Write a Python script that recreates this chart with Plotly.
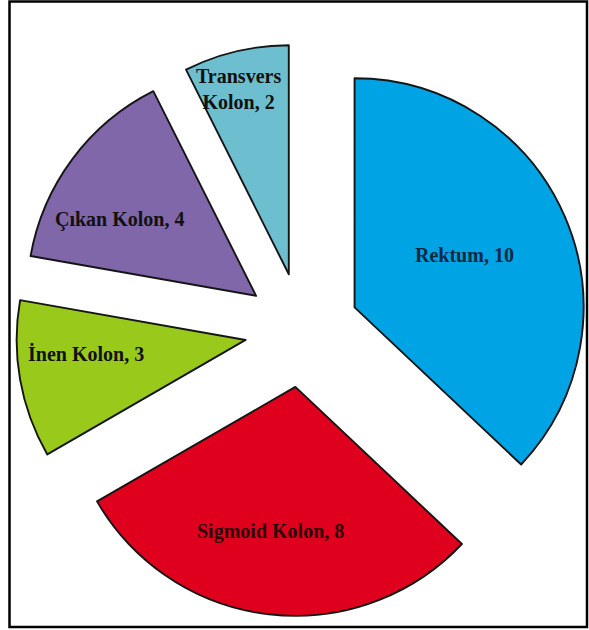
import math
import plotly.graph_objects as go

# ---- data ----
categories = ["Rektum", "Sigmoid Kolon", "İnen Kolon", "Çıkan Kolon", "Transvers Kolon"]
values = [10, 8, 3, 4, 2]
label_texts = ["Rektum, 10", "Sigmoid Kolon, 8", "İnen Kolon, 3", "Çıkan Kolon, 4", "Transvers<br>Kolon, 2"]

# ---- style ----
colors = ["#00A3E4", "#DF001E", "#99C91A", "#8067AA", "#6DBFCF"]
text_colors = ["#0b2a45", "#2b0508", "#111111", "#111111", "#111111"]
label_frac = [0.53, 0.64, 0.70, 0.684, 0.84]     # radial distance of label (fraction of r)
label_dangle = [-2.0, 3.2, 5.0, -7.7, -1.8]       # angular nudge of label (deg)

W, H = 589, 630
PULL = 0.25
CX, CY, R = 302.0, 330.0, 229.0   # pixel center / radius of the pie
half = R * (1 + PULL)

fig = go.Figure(go.Pie(
    labels=categories,
    values=values,
    sort=False,
    direction="clockwise",
    rotation=0,
    pull=[PULL] * len(values),
    marker=dict(colors=colors, line=dict(color="#151515", width=1.9)),
    textinfo="none",
    hoverinfo="label+value",
    showlegend=False,
    domain=dict(x=[(CX - half) / W, (CX + half) / W],
                y=[1 - (CY + half) / H, 1 - (CY - half) / H]),
))

# labels positioned from the slice angles
total = sum(values)
cum = 0
annotations = []
for i, v in enumerate(values):
    mid = (cum + v / 2) / total * 360
    cum += v
    a = math.radians(mid)
    # pulled apex
    ax = CX + PULL * R * math.sin(a)
    ay = CY - PULL * R * math.cos(a)
    b = math.radians(mid + label_dangle[i])
    lx = ax + label_frac[i] * R * math.sin(b)
    ly = ay - label_frac[i] * R * math.cos(b)
    annotations.append(dict(
        x=lx / W, y=1 - ly / H, xref="paper", yref="paper",
        text="<b>" + label_texts[i] + "</b>", showarrow=False,
        font=dict(family="Liberation Serif, Times New Roman, serif", size=20, color=text_colors[i]),
        xanchor="center", yanchor="middle", align="center",
    ))

fig.update_layout(
    width=W, height=H,
    margin=dict(l=0, r=0, t=0, b=0),
    paper_bgcolor="white",
    plot_bgcolor="white",
    annotations=annotations,
    shapes=[dict(type="rect", xref="paper", yref="paper",
                 x0=9.5 / W, x1=587 / W, y0=1 - 627 / H, y1=1 - 1.5 / H,
                 line=dict(color="black", width=2.5), fillcolor="rgba(0,0,0,0)")],
)

fig.write_html("out.html")
